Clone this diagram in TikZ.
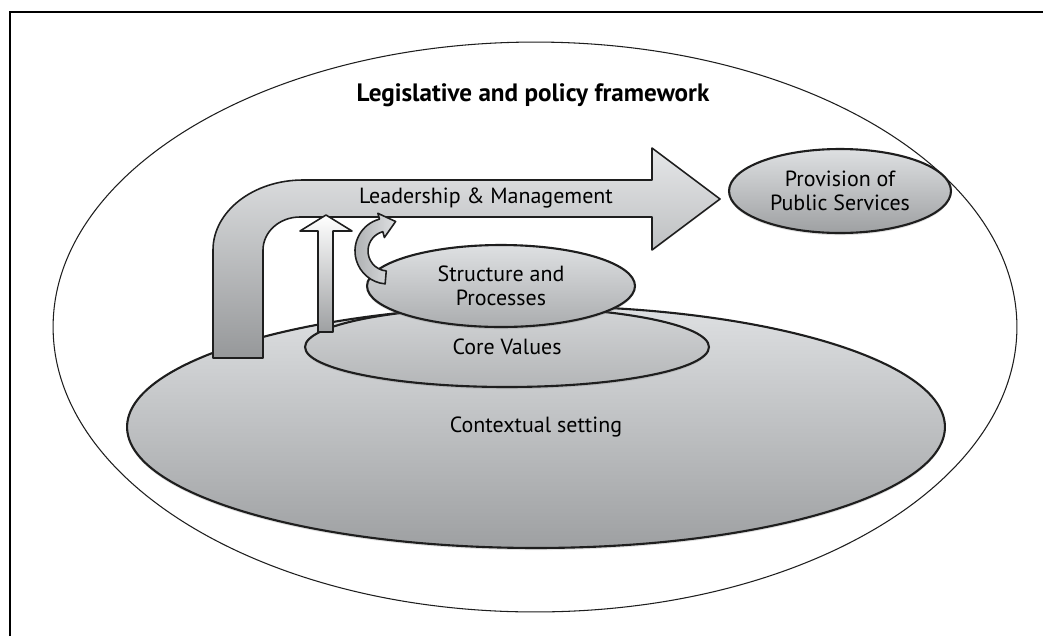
\documentclass[tikz,border=0pt]{standalone}
\usepackage{fontspec}
\setmainfont{PT Sans}
\usetikzlibrary{shapes.geometric,shadows}
\definecolor{inkgray}{RGB}{30,30,30}
\definecolor{lightfill}{RGB}{222,224,226}
\definecolor{darkfill}{RGB}{158,160,162}
\definecolor{midfill}{RGB}{200,202,204}

\begin{document}
\begin{tikzpicture}[
    x=0.02cm, y=0.02cm,
    region/.style={ellipse, draw=inkgray, line width=1.2pt, inner sep=0pt, align=center,
        top color=lightfill, bottom color=darkfill, font=\fontsize{12.5}{14}\selectfont,
        drop shadow={shadow xshift=0pt, shadow yshift=-1.2pt, opacity=0.25}},
    arrowtext/.style={font=\fontsize{12.5}{14}\selectfont},
    blockarrow/.style={draw=inkgray, line width=0.9pt, line join=round}
]

% page and frame
\fill[white] (0,0) rectangle (1043,-636);
\useasboundingbox (0,0) rectangle (1043,-636);
\draw[line width=0.9pt] (10,-636) -- (10,-12) -- (1043,-12);

% Outer framework
\node[ellipse, draw=inkgray, line width=0.6pt, minimum width=19.28cm, minimum height=11.4cm] (policy) at (535,-327) {};
\node[font=\bfseries\fontsize{14.3}{16}\selectfont] (policytitle) at (533,-95) {Legislative and policy framework};

% Base setting
\node[region, minimum width=16.36cm, minimum height=4.84cm] (context) at (536,-427) {Contextual setting};

% Leadership & Management: bent block arrow
\draw[blockarrow, top color=lightfill!80!white, bottom color=darkfill!95!black]
    (213,-358) -- (213,-250) arc[start angle=180, end angle=90, x radius=90, y radius=70]
    -- (652,-180) -- (652,-148) -- (720,-199) -- (652,-250) -- (652,-217)
    -- (300,-217) arc[start angle=90, end angle=180, x radius=37, y radius=33]
    -- (263,-358) -- cycle;
\node[arrowtext] (leadtext) at (486,-198) {Leadership \& Management};

% Inner layers
\node[region, top color=lightfill!95!black, bottom color=midfill!90!black, minimum width=8.08cm, minimum height=1.6cm] (core) at (507,-347) {Core Values};
\node[region, minimum width=5.36cm, minimum height=1.64cm, bottom color=darkfill!80!lightfill] (struct) at (501,-286) {Structure and\\Processes};

% Upward arrow from the core
\draw[blockarrow, top color=white, bottom color=darkfill]
    (318,-332) -- (318,-231) -- (300,-231) -- (326,-215) -- (352,-231)
    -- (333,-231) -- (333,-332) -- cycle;

% Curved arrow from structure into leadership
\begin{scope}[shift={(388,-251)}]
\draw[blockarrow, left color=darkfill!80!lightfill, right color=lightfill]
    (265:20) arc[start angle=265, end angle=105, radius=20]
    -- (105:14) -- (7.6,29.5) -- (105:39)
    -- (105:33) arc[start angle=105, end angle=265, radius=33] -- cycle;
\end{scope}

% Outcome
\node[region, minimum width=4.44cm, minimum height=1.68cm] (provision) at (840,-191) {Provision of\\Public Services};

\end{tikzpicture}
\end{document}
